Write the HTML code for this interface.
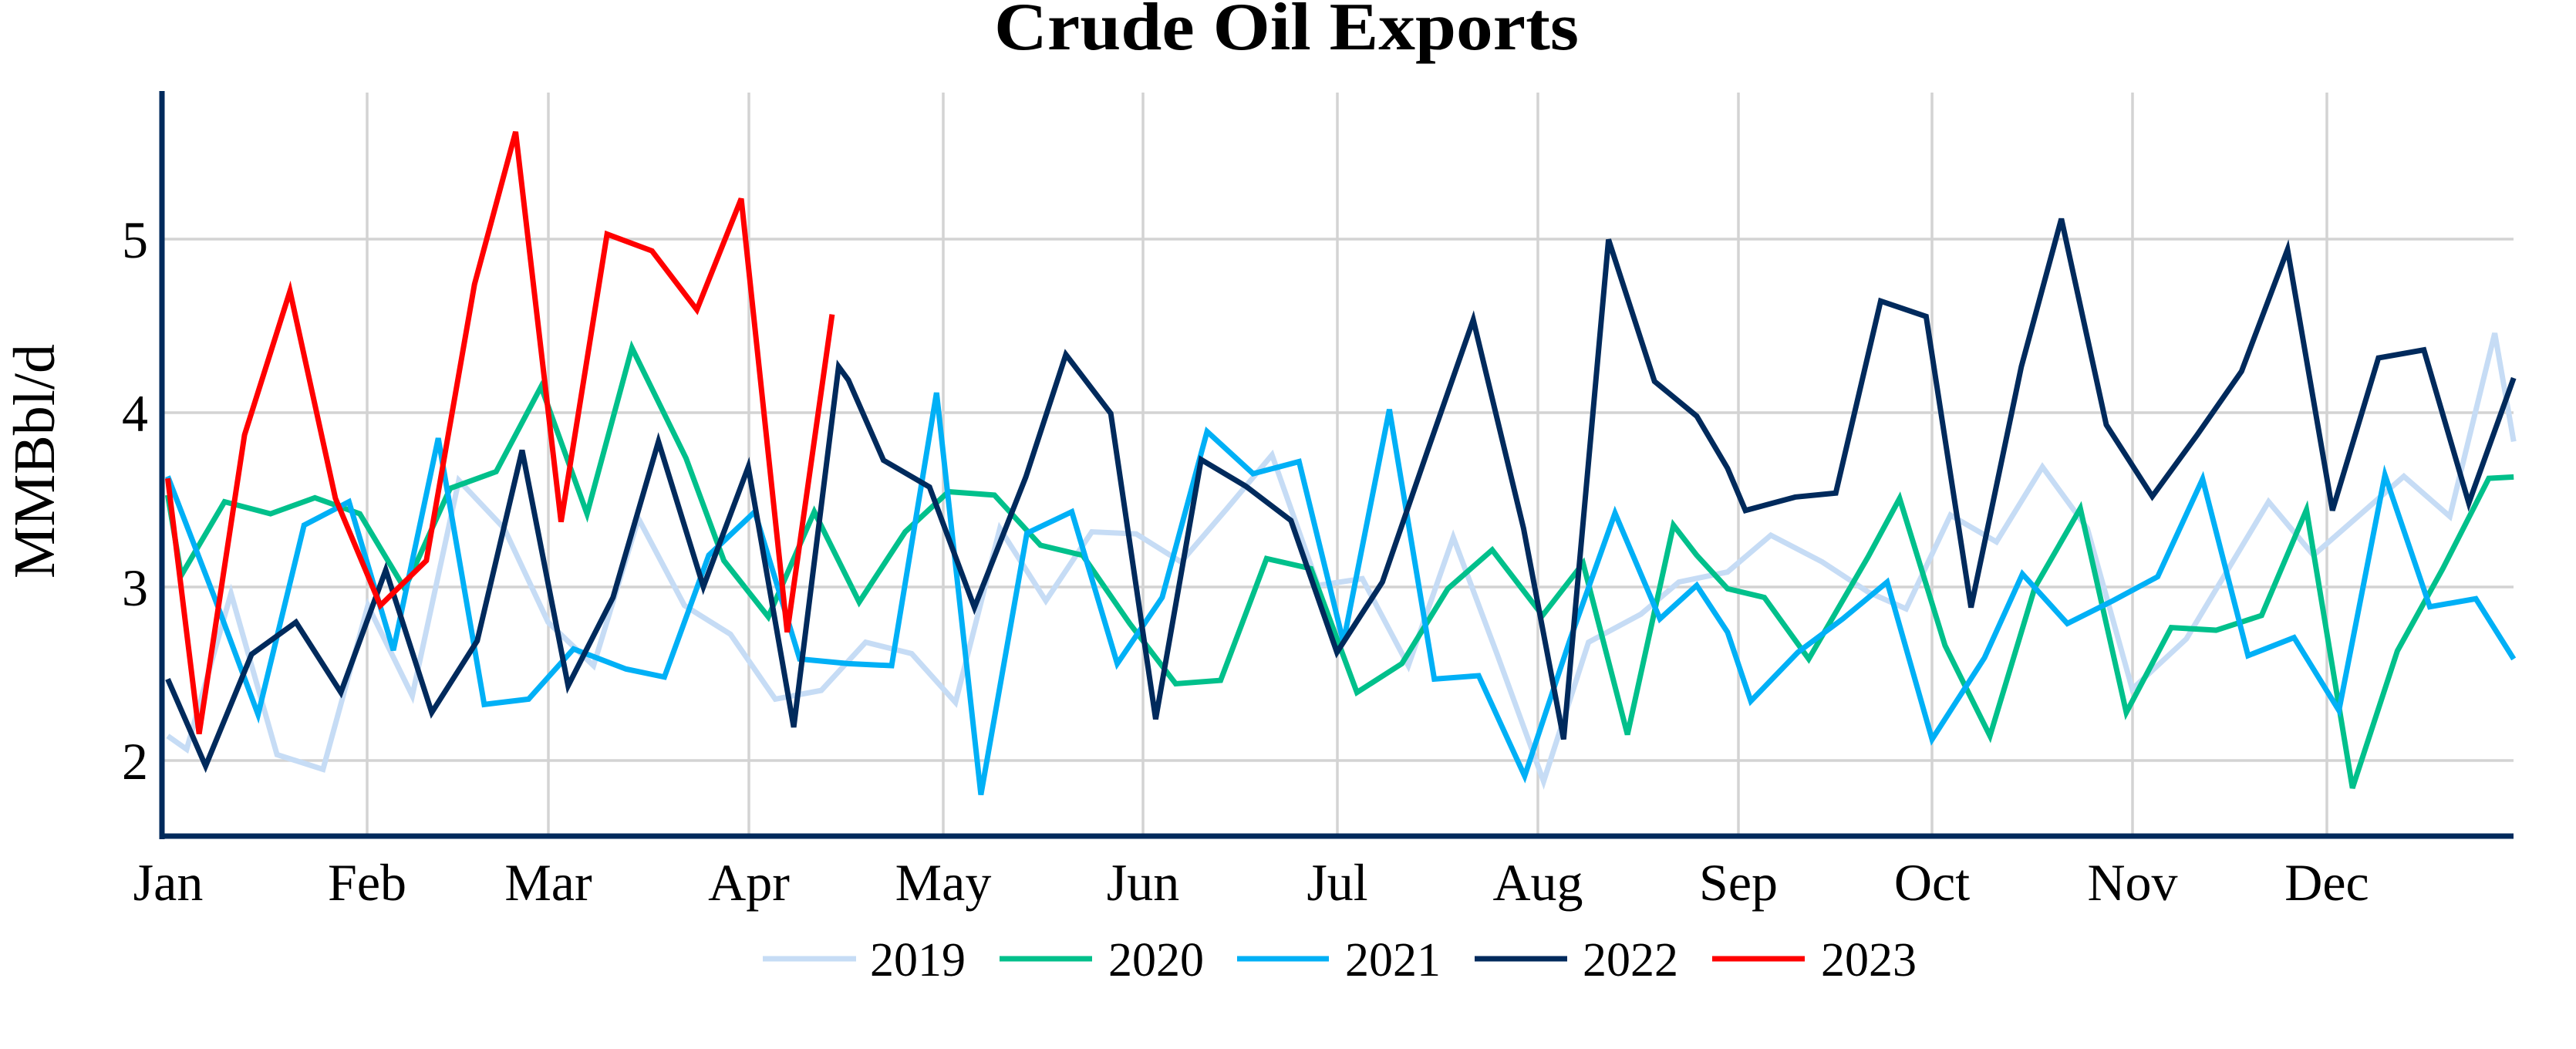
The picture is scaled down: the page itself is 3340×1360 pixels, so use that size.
<!DOCTYPE html>
<html><head><meta charset="utf-8"><style>
html,body{margin:0;padding:0;background:#fff;}
svg{display:block;}
text{font-family:"Liberation Serif","DejaVu Serif",serif;fill:#000;}
</style></head><body>
<svg width="3340" height="1360" viewBox="0 0 3340 1360" xmlns="http://www.w3.org/2000/svg">
<rect width="3340" height="1360" fill="#fff"/>
<g stroke="#d3d3d3" stroke-width="3.5">
<line x1="210" y1="310" x2="3259" y2="310"/>
<line x1="210" y1="535" x2="3259" y2="535"/>
<line x1="210" y1="761" x2="3259" y2="761"/>
<line x1="210" y1="986" x2="3259" y2="986"/>
<line x1="476" y1="120" x2="476" y2="1084"/>
<line x1="711" y1="120" x2="711" y2="1084"/>
<line x1="971" y1="120" x2="971" y2="1084"/>
<line x1="1223" y1="120" x2="1223" y2="1084"/>
<line x1="1482" y1="120" x2="1482" y2="1084"/>
<line x1="1734" y1="120" x2="1734" y2="1084"/>
<line x1="1994" y1="120" x2="1994" y2="1084"/>
<line x1="2254" y1="120" x2="2254" y2="1084"/>
<line x1="2505" y1="120" x2="2505" y2="1084"/>
<line x1="2765" y1="120" x2="2765" y2="1084"/>
<line x1="3017" y1="120" x2="3017" y2="1084"/>
</g>
<g transform="scale(0.70151,0.86735)" fill="none" stroke-linejoin="miter" stroke-width="7">
<polyline vector-effect="non-scaling-stroke" stroke="#c6dcf5" points="310,1100 345,1120 427,887 512,1128 597,1150 680,905 762,1040 848,718 932,790 1013,930 1097,995 1180,775 1265,905 1350,948 1433,1045 1518,1032 1600,960 1685,977 1766,1050 1848,790 1933,898 2018,795 2100,798 2183,840 2268,760 2351,680 2436,875 2518,865 2603,995 2686,803 2768,980 2853,1168 2936,960 3033,918 3103,870 3193,855 3273,800 3368,840 3453,885 3523,910 3605,770 3690,810 3775,698 3858,790 3941,1030 4041,955 4193,750 4276,830 4443,712 4528,772 4611,498 4646,660"/>
<polyline vector-effect="non-scaling-stroke" stroke="#00c08b" points="310,740 335,860 415,750 500,768 582,744 665,768 748,880 832,730 917,705 1000,578 1085,768 1168,520 1268,685 1338,838 1420,922 1505,765 1588,900 1673,795 1753,735 1838,740 1923,815 2001,830 2088,932 2173,1022 2256,1017 2341,835 2423,850 2508,1035 2591,992 2676,880 2758,822 2851,920 2926,842 3008,1098 3093,785 3136,830 3193,880 3261,893 3343,985 3453,832 3511,745 3595,965 3678,1100 3761,878 3845,760 3930,1065 4013,938 4096,942 4180,920 4263,762 4348,1178 4431,973 4515,850 4600,715 4646,713"/>
<polyline vector-effect="non-scaling-stroke" stroke="#00b0f6" points="310,712 395,890 477,1068 562,785 645,750 727,972 810,655 895,1053 977,1045 1060,970 1157,1000 1228,1012 1310,830 1395,765 1478,985 1568,992 1648,995 1731,587 1813,1188 1898,797 1981,765 2065,992 2148,893 2231,645 2316,708 2401,690 2483,960 2568,612 2651,1015 2733,1010 2818,1160 2901,958 2985,767 3068,925 3136,875 3193,945 3236,1048 3323,975 3406,925 3488,870 3571,1105 3668,983 3738,858 3821,932 3905,898 3988,862 4071,716 4155,980 4240,953 4323,1062 4408,710 4491,907 4576,895 4646,985"/>
<polyline vector-effect="non-scaling-stroke" stroke="#002a5c" points="310,1015 380,1145 465,978 547,930 630,1035 713,852 798,1065 882,958 965,673 1050,1025 1133,893 1217,660 1300,877 1383,698 1467,1087 1550,548 1568,568 1633,688 1718,728 1801,908 1896,713 1970,530 2053,618 2136,1075 2220,687 2303,727 2386,778 2471,975 2555,870 2638,675 2723,478 2816,790 2890,1105 2973,358 3058,570 3136,622 3193,700 3226,763 3318,743 3393,737 3476,450 3560,473 3643,908 3736,548 3810,327 3893,635 3978,742 4061,650 4143,555 4228,373 4311,763 4396,535 4480,523 4563,752 4646,565"/>
<polyline vector-effect="non-scaling-stroke" stroke="#ff0000" points="310,715 368,1097 452,650 536,435 620,745 703,905 788,838 877,425 953,197 1037,780 1122,350 1205,375 1288,463 1370,297 1455,945 1538,470"/>
</g>
<line x1="210" y1="118" x2="210" y2="1088" stroke="#002a5c" stroke-width="7"/>
<line x1="207" y1="1084" x2="3259" y2="1084" stroke="#002a5c" stroke-width="7"/>
<g font-size="68" text-anchor="end">
<text x="192" y="334">5</text>
<text x="192" y="559">4</text>
<text x="192" y="785">3</text>
<text x="192" y="1010">2</text>
</g>
<g font-size="68" text-anchor="middle">
<text x="218" y="1167">Jan</text>
<text x="476" y="1167">Feb</text>
<text x="711" y="1167">Mar</text>
<text x="971" y="1167">Apr</text>
<text x="1223" y="1167">May</text>
<text x="1482" y="1167">Jun</text>
<text x="1734" y="1167">Jul</text>
<text x="1994" y="1167">Aug</text>
<text x="2254" y="1167">Sep</text>
<text x="2505" y="1167">Oct</text>
<text x="2765" y="1167">Nov</text>
<text x="3017" y="1167">Dec</text>
</g>
<text transform="translate(70,598) rotate(-90)" font-size="76" text-anchor="middle">MMBbl/d</text>
<text x="1668" y="64" font-size="88" font-weight="bold" text-anchor="middle" textLength="758" lengthAdjust="spacingAndGlyphs">Crude Oil Exports</text>
<g stroke-width="7">
<line x1="989" y1="1243" x2="1110" y2="1243" stroke="#c6dcf5"/>
<line x1="1296" y1="1243" x2="1416" y2="1243" stroke="#00c08b"/>
<line x1="1604" y1="1243" x2="1723" y2="1243" stroke="#00b0f6"/>
<line x1="1912" y1="1243" x2="2032" y2="1243" stroke="#002a5c"/>
<line x1="2220" y1="1243" x2="2340" y2="1243" stroke="#ff0000"/>
</g>
<g font-size="62">
<text x="1128" y="1265">2019</text>
<text x="1437" y="1265">2020</text>
<text x="1744" y="1265">2021</text>
<text x="2052" y="1265">2022</text>
<text x="2361" y="1265">2023</text>
</g>
</svg>
</body></html>
